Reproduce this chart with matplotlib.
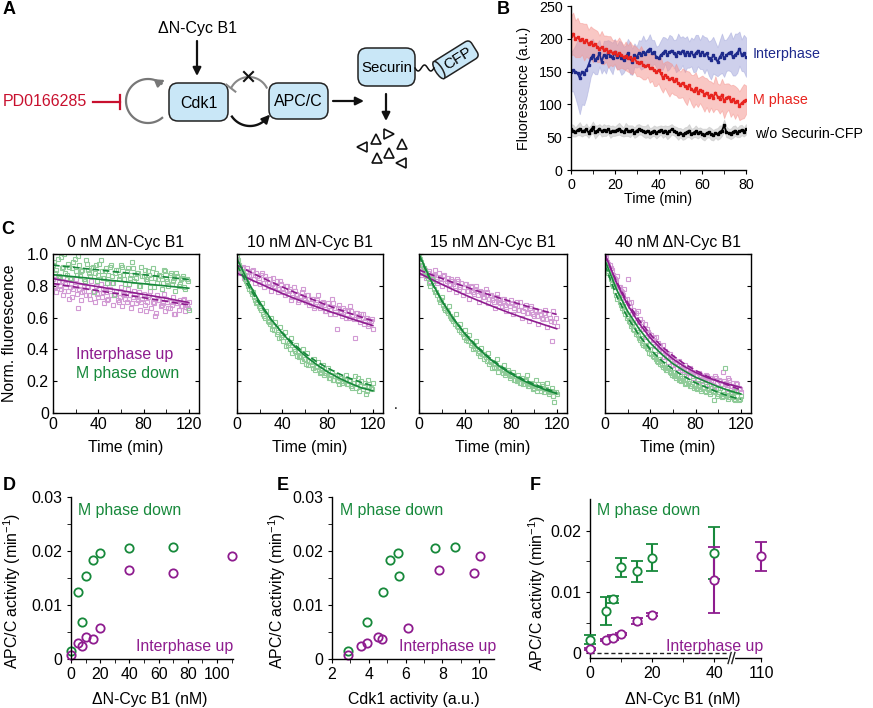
import numpy as np
import matplotlib.pyplot as plt
from matplotlib.patches import FancyBboxPatch, Ellipse
from matplotlib.transforms import Affine2D

plt.rcParams['font.family'] = ['Liberation Sans', 'DejaVu Sans']
plt.rcParams['mathtext.default'] = 'regular'
plt.rcParams['axes.linewidth'] = 1.0

PURPLE = '#8E1C8F'
GREEN = '#17893B'
LPURPLE = '#D29AD4'
LGREEN = '#8FCB98'
RED = '#E8231E'
BLUE = '#1E2A8C'

# ================= data =================
# --- B: Securin-CFP fluorescence, 1 min frames ---
b_time = np.arange(81)
b_inter = [150, 152, 150, 148, 140, 150, 147, 152, 160, 170,
           175, 168, 170, 178, 165, 175, 172, 178, 174, 170,
           180, 172, 175, 170, 168, 172, 178, 170, 165, 175,
           172, 178, 175, 180, 177, 182, 185, 178, 180, 172,
           170, 175, 178, 182, 175, 180, 182, 178, 174, 180,
           178, 182, 175, 180, 176, 180, 174, 178, 182, 176,
           180, 175, 178, 170, 168, 175, 170, 165, 172, 178,
           170, 175, 178, 180, 172, 176, 178, 185, 175, 178,
           172]
b_inter_sd = [30, 32, 40, 50, 55, 50, 48, 42, 35,
              28, 25, 22, 24, 20, 18, 22, 25, 20, 22, 24, 20,
              18, 22, 25, 20, 18, 22, 24, 20, 18, 16, 20, 22, 25, 20, 18, 22, 20, 18, 16, 20,
              22, 25, 20, 24, 26, 22, 20, 25, 28, 24, 22, 26, 24, 20, 22, 25, 28, 24, 22, 26,
              28, 24, 26, 30, 28, 25, 22, 26, 30, 28, 24, 26, 30, 28, 32, 30, 26, 24, 28, 30]
b_mphase = [205, 208, 200, 202, 198, 200, 195, 198, 192, 195,
            190, 192, 188, 185, 187, 183, 185, 180, 182, 178,
            180, 175, 178, 176, 172, 174, 170, 172, 168, 170,
            165, 163, 165, 160, 158, 160, 155, 156, 152, 150,
            152, 148, 140, 145, 142, 138, 140, 135, 138, 132,
            130, 133, 128, 125, 130, 123, 120, 125, 118, 122,
            120, 115, 118, 112, 115, 110, 118, 112, 108, 115,
            105, 110, 112, 105, 108, 103, 105, 98, 102, 105,
            107]
b_mphase_sd = [30, 32, 28, 30, 26, 24, 28, 25, 22, 24, 26,
               22, 24, 20, 25, 22, 20, 24, 22, 20, 18, 22, 24, 20, 18, 22, 20, 24, 22, 20, 22,
               20, 24, 22, 20, 18, 22, 20, 24, 22, 20, 24, 22, 20, 24, 26, 22, 20, 24, 22, 20,
               22, 24, 26, 20, 22, 25, 24, 22, 20, 24, 26, 22, 24, 20, 22, 25, 20, 22, 24, 26,
               22, 20, 24, 22, 25, 20, 22, 24, 26, 22]
b_noprobe = [62, 60, 58, 61, 63, 59, 60, 62, 57, 61,
             65, 58, 60, 63, 59, 61, 60, 62, 58, 60,
             59, 61, 63, 60, 58, 62, 60, 59, 61, 57,
             60, 62, 61, 59, 58, 60, 56, 58, 60, 57,
             59, 61, 58, 60, 57, 59, 62, 60, 58, 55,
             57, 54, 56, 58, 60, 55, 57, 59, 56, 58,
             55, 54, 56, 58, 55, 53, 56, 55, 58, 60,
             68, 58, 56, 55, 58, 60, 57, 59, 61, 58,
             62]
b_noprobe_sd = [8, 9, 7, 8, 10, 8, 7, 9, 8, 7, 9, 10, 8, 7, 8, 9, 8, 7, 9, 8,
                7, 8, 9, 8, 7, 10, 8, 9, 7, 8, 9, 8, 7, 8, 9, 10, 8, 7, 8, 9,
                8, 7, 9, 8, 10, 9, 8, 7, 8, 9, 7, 8, 9, 8, 10, 8, 7, 9, 8, 7,
                8, 9, 7, 8, 9, 8, 7, 9, 10, 8, 9, 8, 7, 8, 9, 8, 7, 9, 8, 7, 8]

# --- C: normalised fluorescence (two replicates, 2 min frames) and fits every 10 min ---
c_titles = ['0 nM \u0394N-Cyc B1', '10 nM \u0394N-Cyc B1',
            '15 nM \u0394N-Cyc B1', '40 nM \u0394N-Cyc B1']
c_time = np.arange(0, 121, 2)
c_time2 = np.arange(1, 120, 2)
c_fit_time = np.arange(0, 121, 10)

c_inter_pts = [
    [0.84, 0.79, 0.86, 0.80, 0.83, 0.77, 0.85, 0.72, 0.81, 0.78,
     0.84, 0.66, 0.80, 0.76, 0.82, 0.79, 0.74, 0.83, 0.77, 0.80,
     0.73, 0.81, 0.76, 0.79, 0.71, 0.78, 0.82, 0.74, 0.77, 0.70,
     0.79, 0.75, 0.72, 0.78, 0.74, 0.69, 0.77, 0.73, 0.76, 0.70,
     0.75, 0.64, 0.73, 0.77, 0.70, 0.61, 0.74, 0.71, 0.68, 0.75,
     0.72, 0.66, 0.70, 0.73, 0.62, 0.69, 0.71, 0.67, 0.72, 0.68,
     0.70],
    [0.97, 0.88, 0.91, 0.85, 0.89, 0.84, 0.87, 0.90, 0.82, 0.86,
     0.81, 0.88, 0.79, 0.84, 0.82, 0.77, 0.85, 0.80, 0.76, 0.83,
     0.78, 0.74, 0.80, 0.77, 0.71, 0.79, 0.75, 0.70, 0.73, 0.78,
     0.71, 0.74, 0.68, 0.72, 0.66, 0.70, 0.74, 0.67, 0.70, 0.64,
     0.69, 0.62, 0.72, 0.66, 0.53, 0.68, 0.63, 0.66, 0.60, 0.64,
     0.67, 0.61, 0.47, 0.63, 0.59, 0.62, 0.56, 0.60, 0.55, 0.58,
     0.53],
    [0.92, 0.87, 0.89, 0.85, 0.88, 0.83, 0.86, 0.90, 0.82, 0.85,
     0.80, 0.87, 0.83, 0.78, 0.84, 0.81, 0.76, 0.83, 0.79, 0.74,
     0.81, 0.77, 0.72, 0.79, 0.75, 0.80, 0.70, 0.76, 0.73, 0.78,
     0.69, 0.74, 0.71, 0.66, 0.75, 0.70, 0.67, 0.72, 0.64, 0.69,
     0.71, 0.62, 0.68, 0.65, 0.70, 0.60, 0.66, 0.63, 0.58, 0.67,
     0.61, 0.64, 0.56, 0.62, 0.59, 0.65, 0.54, 0.60, 0.45, 0.57,
     0.55],
    [1.00, 0.95, 0.93, 0.90, 0.85, 0.83, 0.79, 0.77, 0.74, 0.71,
     0.84, 0.67, 0.62, 0.63, 0.57, 0.57, 0.53, 0.53, 0.48, 0.51,
     0.46, 0.46, 0.42, 0.42, 0.39, 0.39, 0.35, 0.36, 0.32, 0.35,
     0.30, 0.31, 0.28, 0.28, 0.27, 0.26, 0.24, 0.25, 0.26, 0.22,
     0.24, 0.21, 0.24, 0.20, 0.21, 0.23, 0.18, 0.21, 0.17, 0.22,
     0.16, 0.20, 0.26, 0.18, 0.15, 0.21, 0.17, 0.14, 0.19, 0.16,
     0.13],
]
c_inter_pts2 = [
    [0.80, 0.76, 0.83, 0.78, 0.74, 0.81, 0.77, 0.79, 0.73, 0.80,
     0.75, 0.78, 0.71, 0.77, 0.74, 0.79, 0.72, 0.76, 0.70, 0.75,
     0.78, 0.73, 0.69, 0.76, 0.72, 0.74, 0.68, 0.75, 0.71, 0.73,
     0.67, 0.74, 0.70, 0.72, 0.66, 0.73, 0.69, 0.71, 0.65, 0.72,
     0.68, 0.70, 0.74, 0.66, 0.69, 0.63, 0.71, 0.67, 0.69, 0.64,
     0.70, 0.66, 0.68, 0.62, 0.69, 0.65, 0.67, 0.71, 0.64, 0.66],
    [0.94, 0.90, 0.92, 0.87, 0.91, 0.86, 0.89, 0.84, 0.88, 0.85,
     0.87, 0.82, 0.86, 0.80, 0.84, 0.81, 0.79, 0.83, 0.78, 0.81,
     0.76, 0.80, 0.75, 0.78, 0.73, 0.77, 0.74, 0.71, 0.76, 0.72,
     0.70, 0.74, 0.69, 0.72, 0.67, 0.71, 0.66, 0.69, 0.68, 0.64,
     0.67, 0.65, 0.69, 0.62, 0.66, 0.64, 0.61, 0.65, 0.62, 0.60,
     0.64, 0.59, 0.63, 0.61, 0.57, 0.62, 0.58, 0.60, 0.56, 0.59],
    [0.91, 0.88, 0.90, 0.86, 0.89, 0.85, 0.87, 0.83, 0.88, 0.84,
     0.86, 0.82, 0.85, 0.81, 0.83, 0.80, 0.84, 0.78, 0.82, 0.79,
     0.81, 0.77, 0.80, 0.76, 0.78, 0.74, 0.77, 0.75, 0.73, 0.76,
     0.72, 0.74, 0.70, 0.73, 0.71, 0.69, 0.72, 0.68, 0.70, 0.67,
     0.69, 0.66, 0.70, 0.65, 0.67, 0.64, 0.68, 0.63, 0.66, 0.62,
     0.65, 0.61, 0.64, 0.60, 0.63, 0.59, 0.62, 0.58, 0.64, 0.60],
    [0.98, 0.94, 0.91, 0.87, 0.84, 0.86, 0.79, 0.76, 0.78, 0.72,
     0.69, 0.70, 0.65, 0.63, 0.64, 0.59, 0.57, 0.56, 0.53, 0.50,
     0.49, 0.47, 0.48, 0.44, 0.42, 0.43, 0.39, 0.38, 0.37, 0.35,
     0.34, 0.32, 0.33, 0.30, 0.29, 0.30, 0.27, 0.28, 0.25, 0.26,
     0.24, 0.25, 0.23, 0.22, 0.24, 0.21, 0.22, 0.20, 0.23, 0.19,
     0.21, 0.18, 0.20, 0.19, 0.22, 0.17, 0.19, 0.16, 0.18, 0.15],
]
c_mdown_pts = [
    [0.93, 0.88, 0.97, 0.85, 0.91, 1.00, 0.87, 0.92, 0.84, 0.95,
     0.89, 0.99, 0.86, 0.90, 0.83, 0.94, 0.88, 0.91, 0.76, 0.93,
     0.87, 0.96, 0.85, 0.89, 0.82, 0.92, 0.86, 0.74, 0.90, 0.84,
     0.93, 0.87, 0.81, 0.91, 0.85, 0.95, 0.83, 0.88, 0.80, 0.92,
     0.86, 0.84, 0.89, 0.79, 0.91, 0.85, 0.82, 0.87, 0.78, 0.90,
     0.84, 0.80, 0.88, 0.83, 0.77, 0.86, 0.81, 0.85, 0.79, 0.84,
     0.65],
    [0.98, 0.93, 0.89, 0.87, 0.83, 0.80, 0.77, 0.76, 0.71, 0.70,
     0.66, 0.69, 0.61, 0.64, 0.57, 0.60, 0.55, 0.57, 0.51, 0.54,
     0.49, 0.51, 0.45, 0.44, 0.47, 0.40, 0.43, 0.39, 0.36, 0.40,
     0.34, 0.38, 0.33, 0.30, 0.34, 0.29, 0.32, 0.26, 0.30, 0.25,
     0.28, 0.22, 0.26, 0.21, 0.24, 0.18, 0.22, 0.20, 0.24, 0.18,
     0.21, 0.16, 0.23, 0.19, 0.14, 0.20, 0.17, 0.12, 0.21, 0.16,
     0.19],
    [1.00, 0.95, 0.91, 0.88, 0.85, 0.80, 0.83, 0.76, 0.74, 0.70,
     0.73, 0.66, 0.64, 0.67, 0.60, 0.58, 0.62, 0.54, 0.56, 0.50,
     0.52, 0.47, 0.49, 0.44, 0.42, 0.45, 0.39, 0.41, 0.37, 0.35,
     0.38, 0.33, 0.28, 0.31, 0.34, 0.29, 0.27, 0.30, 0.25, 0.27,
     0.23, 0.26, 0.21, 0.24, 0.19, 0.22, 0.20, 0.24, 0.17, 0.19,
     0.16, 0.21, 0.18, 0.14, 0.17, 0.15, 0.19, 0.13, 0.16, 0.07,
     0.12],
    [0.95, 0.89, 0.87, 0.81, 0.80, 0.74, 0.73, 0.68, 0.67, 0.62,
     0.61, 0.57, 0.56, 0.52, 0.51, 0.47, 0.47, 0.43, 0.43, 0.40,
     0.40, 0.36, 0.37, 0.33, 0.34, 0.30, 0.31, 0.27, 0.28, 0.25,
     0.26, 0.23, 0.24, 0.21, 0.22, 0.23, 0.19, 0.20, 0.17, 0.21,
     0.16, 0.19, 0.15, 0.18, 0.14, 0.17, 0.13, 0.16, 0.08, 0.15,
     0.12, 0.16, 0.11, 0.28, 0.14, 0.10, 0.13, 0.09, 0.14, 0.08,
     0.11],
]
c_mdown_pts2 = [
    [0.95, 0.90, 0.86, 0.98, 0.92, 0.88, 0.94, 0.85, 0.91, 0.97,
     0.87, 0.93, 0.89, 0.84, 0.96, 0.90, 0.86, 0.92, 0.88, 0.83,
     0.94, 0.89, 0.85, 0.91, 0.87, 0.93, 0.82, 0.88, 0.90, 0.86,
     0.92, 0.84, 0.89, 0.81, 0.87, 0.91, 0.85, 0.88, 0.80, 0.86,
     0.90, 0.83, 0.87, 0.85, 0.79, 0.88, 0.84, 0.86, 0.82, 0.89,
     0.83, 0.87, 0.81, 0.85, 0.88, 0.80, 0.84, 0.86, 0.78, 0.83],
    [0.96, 0.91, 0.88, 0.84, 0.82, 0.78, 0.75, 0.73, 0.69, 0.67,
     0.65, 0.62, 0.60, 0.58, 0.56, 0.53, 0.52, 0.50, 0.47, 0.48,
     0.45, 0.42, 0.43, 0.40, 0.38, 0.39, 0.36, 0.35, 0.33, 0.34,
     0.31, 0.30, 0.32, 0.28, 0.27, 0.29, 0.25, 0.27, 0.24, 0.25,
     0.22, 0.24, 0.21, 0.23, 0.20, 0.22, 0.19, 0.21, 0.18, 0.20,
     0.17, 0.19, 0.16, 0.22, 0.17, 0.15, 0.19, 0.14, 0.17, 0.15],
    [0.97, 0.93, 0.89, 0.86, 0.82, 0.84, 0.78, 0.76, 0.72, 0.71,
     0.68, 0.65, 0.63, 0.61, 0.59, 0.56, 0.55, 0.52, 0.51, 0.48,
     0.46, 0.45, 0.43, 0.40, 0.41, 0.38, 0.36, 0.37, 0.34, 0.33,
     0.31, 0.32, 0.29, 0.28, 0.26, 0.28, 0.25, 0.24, 0.26, 0.22,
     0.24, 0.21, 0.20, 0.22, 0.19, 0.18, 0.21, 0.17, 0.18, 0.15,
     0.17, 0.14, 0.16, 0.18, 0.13, 0.15, 0.12, 0.14, 0.11, 0.13],
    [0.92, 0.88, 0.84, 0.80, 0.77, 0.72, 0.70, 0.66, 0.64, 0.60,
     0.58, 0.55, 0.53, 0.50, 0.49, 0.46, 0.44, 0.42, 0.41, 0.38,
     0.37, 0.35, 0.34, 0.32, 0.31, 0.29, 0.28, 0.27, 0.26, 0.24,
     0.23, 0.22, 0.21, 0.20, 0.21, 0.18, 0.19, 0.17, 0.18, 0.16,
     0.15, 0.17, 0.14, 0.16, 0.13, 0.15, 0.12, 0.14, 0.13, 0.11,
     0.13, 0.10, 0.12, 0.11, 0.09, 0.12, 0.10, 0.08, 0.11, 0.09],
]
c_inter_fit_solid = [
    [0.845, 0.832, 0.819, 0.806, 0.794, 0.782, 0.770, 0.758, 0.746, 0.734, 0.722, 0.708, 0.695],
    [0.880, 0.846, 0.814, 0.783, 0.752, 0.723, 0.696, 0.669, 0.643, 0.619, 0.595, 0.572, 0.550],
    [0.880, 0.844, 0.809, 0.775, 0.743, 0.712, 0.683, 0.654, 0.627, 0.601, 0.577, 0.553, 0.530],
    [1.000, 0.822, 0.680, 0.565, 0.473, 0.400, 0.340, 0.293, 0.255, 0.224, 0.200, 0.180, 0.160],
]
c_inter_fit_dash = [
    [0.815, 0.803, 0.792, 0.780, 0.769, 0.758, 0.747, 0.736, 0.725, 0.714, 0.703, 0.691, 0.680],
    [0.930, 0.893, 0.858, 0.825, 0.793, 0.762, 0.733, 0.705, 0.677, 0.651, 0.626, 0.603, 0.580],
    [0.900, 0.872, 0.846, 0.820, 0.795, 0.770, 0.747, 0.724, 0.702, 0.680, 0.659, 0.639, 0.620],
    [0.990, 0.830, 0.695, 0.585, 0.495, 0.420, 0.360, 0.310, 0.268, 0.232, 0.200, 0.172, 0.145],
]
c_mdown_fit_solid = [
    [0.870, 0.863, 0.856, 0.849, 0.842, 0.835, 0.828, 0.820, 0.813, 0.806, 0.799, 0.792, 0.785],
    [0.970, 0.822, 0.698, 0.591, 0.502, 0.425, 0.361, 0.306, 0.259, 0.220, 0.187, 0.158, 0.140],
    [1.000, 0.839, 0.705, 0.592, 0.497, 0.417, 0.350, 0.294, 0.247, 0.207, 0.174, 0.146, 0.122],
    [0.960, 0.780, 0.640, 0.530, 0.440, 0.370, 0.310, 0.265, 0.225, 0.195, 0.165, 0.140, 0.120],
]
c_mdown_fit_dash = [
    [0.930, 0.922, 0.915, 0.907, 0.900, 0.892, 0.885, 0.877, 0.870, 0.862, 0.855, 0.847, 0.840],
    [0.930, 0.800, 0.685, 0.588, 0.505, 0.435, 0.375, 0.325, 0.283, 0.247, 0.217, 0.192, 0.170],
    [0.990, 0.835, 0.704, 0.594, 0.501, 0.423, 0.357, 0.301, 0.254, 0.215, 0.182, 0.154, 0.130],
    [0.930, 0.740, 0.600, 0.490, 0.400, 0.330, 0.275, 0.230, 0.190, 0.160, 0.130, 0.105, 0.085],
]

# --- D / E: APC/C activity (min^-1) ---
d_conc_m = [0, 5, 7.5, 10, 15, 20, 40, 70]
d_mdown = [0.0015, 0.0125, 0.0068, 0.0153, 0.0183, 0.0197, 0.0206, 0.0207]
d_conc_i = [0, 5, 7.5, 10, 15, 20, 40, 70, 110]
d_inter = [0.0008, 0.0030, 0.0025, 0.0040, 0.0037, 0.0057, 0.0164, 0.0159, 0.0191]
e_cdk1_m = [2.87, 4.77, 3.90, 5.64, 5.17, 5.60, 7.60, 8.70]
e_cdk1_i = [2.87, 3.89, 3.56, 4.50, 4.74, 6.11, 7.80, 9.72, 10.02]

# --- F: mean +/- error ---
f_conc_m = [0, 5, 7.5, 10, 15, 20, 40]
f_mdown = [0.0022, 0.0069, 0.0088, 0.0140, 0.0134, 0.0156, 0.0164]
f_mdown_err = [0.0007, 0.0023, 0.0006, 0.0015, 0.0017, 0.0022, 0.0043]
f_conc_i = [0, 5, 7.5, 10, 15, 20, 40, 110]
f_inter = [0.0007, 0.0021, 0.0025, 0.0031, 0.0052, 0.0063, 0.0119, 0.0158]
f_inter_err = [0.0002, 0.0002, 0.0004, 0.0002, 0.0005, 0.0002, 0.0054, 0.0024]
F_POS_110 = 55      # 110 nM drawn after the axis break
F_BREAK = 45.5

# ================= figure =================
W, H = 873, 708
fig = plt.figure(figsize=(W / 100, H / 100), dpi=100)


def px_axes(l, t, r, b):
    return fig.add_axes([l / W, 1 - b / H, (r - l) / W, (b - t) / H])


def ftext(x, y, s, **kw):
    fig.text(x / W, 1 - y / H, s, **kw)


for lab, x, y in [('A', 9, 10), ('B', 503, 9), ('C', 8, 230),
                  ('D', 9, 486), ('E', 283, 486), ('F', 535, 486)]:
    ftext(x, y, lab, fontsize=13, fontweight='bold', ha='center', va='center')

# ---------------- A: scheme ----------------
axA = px_axes(0, 0, 480, 180)
axA.set_xlim(0, 480)
axA.set_ylim(180, 0)
axA.axis('off')
BOX_FC = '#C9E7F7'


def node(x0, y0, x1, y1, label, fs=11.5):
    axA.add_patch(FancyBboxPatch((x0, y0), x1 - x0, y1 - y0,
                                 boxstyle='round,pad=0,rounding_size=9',
                                 fc=BOX_FC, ec='#222222', lw=1.1))
    axA.text((x0 + x1) / 2, (y0 + y1) / 2 + 1, label, ha='center', va='center', fontsize=fs)


def arrow(p0, p1, color='#111111', lw=1.6):
    axA.annotate('', xy=p1, xytext=p0,
                 arrowprops=dict(arrowstyle='-|>', color=color, lw=lw,
                                 mutation_scale=12, shrinkA=0, shrinkB=0))


node(169, 83, 228, 121, 'Cdk1')
node(269, 83, 328, 119, 'APC/C')
node(358, 48, 415, 86, 'Securin', fs=10.8)
axA.text(197, 28, '\u0394N-Cyc B1', ha='center', va='center', fontsize=11.5)
arrow((197, 41), (197, 76))
axA.text(3, 102, 'PD0166285', ha='left', va='center', fontsize=11.5, color='#C8102E')
axA.plot([93, 120], [102, 102], color='#C8102E', lw=1.6)
axA.plot([120, 120], [95, 109], color='#C8102E', lw=1.6)

# gray self-activation loop
th = np.radians(np.linspace(-50, -308, 80))
axA.plot(148 + 22 * np.cos(th), 101 - 22 * np.sin(th), color='#777777', lw=1.6)
arrow((148 + 22 * np.cos(th[-3]), 101 - 22 * np.sin(th[-3])), (165, 80), color='#777777', lw=1.6)

# gray inhibition arc (crossed out)
th = np.radians(np.linspace(28, 152, 60))
ax_, ay_ = 249 + 20 * np.cos(th), 97 - 20 * np.sin(th)
axA.plot(ax_, ay_, color='#888888', lw=1.5)
axA.plot([ax_[-1] - 5, ax_[-1] + 4], [ay_[-1] - 3, ay_[-1] + 4], color='#888888', lw=1.5)
axA.plot([244, 253], [72, 81], color='#111111', lw=1.5)
axA.plot([244, 253], [81, 72], color='#111111', lw=1.5)

# black activation arc
th = np.radians(np.linspace(-145, -35, 60))
bx_, by_ = 250 + 22 * np.cos(th), 104 - 22 * np.sin(th)
axA.plot(bx_[:-4], by_[:-4], color='#111111', lw=1.7)
arrow((bx_[-6], by_[-6]), (bx_[-1] + 2, by_[-1] - 2))

arrow((333, 101), (364, 101))
arrow((386, 94), (386, 121))

# CFP barrel and linker
sq_x = np.linspace(415, 434, 40)
axA.plot(sq_x, 68 + 3 * np.sin((sq_x - 415) / 19 * 3 * np.pi), color='#111111', lw=1.1)
rot = Affine2D().rotate_deg_around(455, 60, -32) + axA.transData
axA.add_patch(FancyBboxPatch((434, 50), 44, 20, boxstyle='round,pad=0,rounding_size=5',
                             fc=BOX_FC, ec='#222222', lw=1.1, transform=rot))
axA.add_patch(Ellipse((436, 60), 7, 20, fc=BOX_FC, ec='#222222', lw=1.1, transform=rot))
axA.text(458, 59, 'CFP', rotation=32, ha='center', va='center', fontsize=11)

# degradation products
for (tx, ty, mk) in [(362, 147, '<'), (376, 139, '^'), (389, 134, '>'), (402, 144, '^'),
                     (389, 153, '^'), (377, 158, '^'), (401, 163, '<')]:
    axA.plot(tx, ty, marker=mk, ms=7.5, mfc='white', mec='#111111', mew=1.2)

# ---------------- B ----------------
axB = px_axes(571, 6, 746, 170)
for m, sd, col, fcol in [(b_inter, b_inter_sd, BLUE, '#9FA3DA'),
                         (b_mphase, b_mphase_sd, RED, '#F5908A'),
                         (b_noprobe, b_noprobe_sd, 'black', '#BBBBBB')]:
    m = np.array(m, float)
    sd = np.array(sd, float)
    axB.fill_between(b_time, m - sd, m + sd, color=fcol, alpha=0.5, lw=0.6)
for m, col in [(b_inter, BLUE), (b_mphase, RED), (b_noprobe, 'black')]:
    axB.plot(b_time, m, color=col, lw=1.3, marker='s', ms=2, mec=col)
axB.set_xlim(0, 80)
axB.set_ylim(0, 250)
axB.spines[['top', 'right']].set_visible(False)
axB.set_xticks([0, 20, 40, 60, 80])
axB.set_xticks([10, 30, 50, 70], minor=True)
axB.set_yticks([0, 50, 100, 150, 200, 250])
axB.tick_params(which='both', direction='out', length=3, labelsize=10.3, pad=3)
axB.set_xlabel('Time (min)', fontsize=10.3)
axB.set_ylabel('Fluorescence (a.u.)', fontsize=10.3)
axB.xaxis.set_label_coords(0.497, -0.135)
axB.yaxis.set_label_coords(-0.228, 0.5)
ftext(753, 54, 'Interphase', color=BLUE, fontsize=10.3, va='center')
ftext(753, 100, 'M phase', color=RED, fontsize=10.3, va='center')
ftext(755, 134, 'w/o Securin-CFP', color='black', fontsize=10.3, va='center')

# ---------------- C ----------------
c_boxes = [(53, 254, 199, 413), (237, 254, 383, 413), (419, 254, 567, 413), (605, 254, 751, 413)]
for i, box in enumerate(c_boxes):
    ax = px_axes(*box)
    for tt, pts, col in [(c_time, c_inter_pts[i], LPURPLE), (c_time2, c_inter_pts2[i], LPURPLE),
                         (c_time, c_mdown_pts[i], LGREEN), (c_time2, c_mdown_pts2[i], LGREEN)]:
        ax.plot(tt, pts, 's', ms=3.2, mfc='none', mec=col, mew=0.8)
    ax.plot(c_fit_time, c_inter_fit_solid[i], color=PURPLE, lw=1.2)
    ax.plot(c_fit_time, c_inter_fit_dash[i], color=PURPLE, lw=1.2, dashes=(4, 2))
    ax.plot(c_fit_time, c_mdown_fit_solid[i], color=GREEN, lw=1.2)
    ax.plot(c_fit_time, c_mdown_fit_dash[i], color=GREEN, lw=1.2, dashes=(4, 2))
    ax.set_xlim(0, 129)
    ax.set_ylim(0, 1.0)
    ax.set_xticks([0, 40, 80, 120])
    ax.set_xticks([20, 60, 100], minor=True)
    ax.set_yticks([0, 0.2, 0.4, 0.6, 0.8, 1.0])
    ax.tick_params(which='both', direction='in', length=3, right=True, labelsize=11.4, pad=3)
    if i == 0:
        ax.set_yticklabels(['0', '0.2', '0.4', '0.6', '0.8', '1.0'])
        ax.set_ylabel('Norm. fluorescence', fontsize=11.4)
        ax.yaxis.set_label_coords(-0.247, 0.5)
        ax.text(0.16, 0.365, 'Interphase up', color=PURPLE, fontsize=11.4,
                transform=ax.transAxes, va='center')
        ax.text(0.16, 0.25, 'M phase down', color=GREEN, fontsize=11.4,
                transform=ax.transAxes, va='center')
    else:
        ax.set_yticklabels([])
    ax.set_title(c_titles[i], fontsize=11.4, pad=5)
    ax.set_xlabel('Time (min)', fontsize=11.4)
    ax.xaxis.set_label_coords(0.5, -0.17)
ftext(396, 412, '.', fontsize=10, ha='center', va='bottom')


# ---------------- D, E ----------------
def style_rate(ax):
    ax.spines[['top', 'right']].set_visible(False)
    ax.set_ylim(0, 0.03)
    ax.set_yticks([0, 0.01, 0.02, 0.03])
    ax.set_yticks([0.005, 0.015, 0.025], minor=True)
    ax.set_yticklabels(['0', '0.01', '0.02', '0.03'])
    ax.tick_params(which='both', direction='out', length=3, labelsize=11.4, pad=3)
    ax.set_ylabel('APC/C activity (min$^{-1}$)', fontsize=11.4)


axD = px_axes(71, 497, 233, 659)
axD.plot(d_conc_m, d_mdown, 'o', ms=6, mfc='none', mec=GREEN, mew=1.3, clip_on=False)
axD.plot(d_conc_i, d_inter, 'o', ms=6, mfc='none', mec=PURPLE, mew=1.3, clip_on=False)
style_rate(axD)
axD.set_xlim(0, 111)
axD.set_xticks([0, 20, 40, 60, 80, 100])
axD.set_xticks([10, 30, 50, 70, 90, 110], minor=True)
axD.set_xlabel('\u0394N-Cyc B1 (nM)', fontsize=11.4)
axD.xaxis.set_label_coords(0.488, -0.204)
axD.yaxis.set_label_coords(-0.296, 0.42)
ftext(78, 511, 'M phase down', color=GREEN, fontsize=11.4, va='center')
ftext(233, 647, 'Interphase up', color=PURPLE, fontsize=11.4, va='center', ha='right')

axE = px_axes(332, 497, 494, 659)
axE.plot(e_cdk1_m, d_mdown, 'o', ms=6, mfc='none', mec=GREEN, mew=1.3, clip_on=False)
axE.plot(e_cdk1_i, d_inter, 'o', ms=6, mfc='none', mec=PURPLE, mew=1.3, clip_on=False)
style_rate(axE)
axE.set_xlim(2, 10.8)
axE.set_xticks([2, 4, 6, 8, 10])
axE.set_xticks([3, 5, 7, 9], minor=True)
axE.set_xlabel('Cdk1 activity (a.u.)', fontsize=11.4)
axE.xaxis.set_label_coords(0.506, -0.204)
axE.yaxis.set_label_coords(-0.272, 0.42)
ftext(340, 511, 'M phase down', color=GREEN, fontsize=11.4, va='center')
ftext(496, 647, 'Interphase up', color=PURPLE, fontsize=11.4, va='center', ha='right')

# ---------------- F ----------------
axF = px_axes(590, 499, 761, 658)
fpos_m = [c if c <= 40 else F_POS_110 for c in f_conc_m]
fpos_i = [c if c <= 40 else F_POS_110 for c in f_conc_i]
axF.plot([0, F_BREAK - 0.8], [0, 0], color='#222222', lw=1.0, dashes=(3, 2))
for pos, val, err, col in [(fpos_m, f_mdown, f_mdown_err, GREEN),
                           (fpos_i, f_inter, f_inter_err, PURPLE)]:
    axF.errorbar(pos, val, yerr=err, fmt='o', ms=6, mfc='white', mec=col, mew=1.3,
                 ecolor=col, elinewidth=1.5, capsize=4, capthick=1.5, clip_on=False, zorder=3)
axF.spines[['top', 'right']].set_visible(False)
axF.set_xlim(0, F_POS_110)
axF.set_ylim(-0.0008, 0.0252)
axF.set_xticks([0, 20, 40, F_POS_110])
axF.set_xticklabels(['0', '20', '40', '110'])
axF.set_xticks([10, 30], minor=True)
axF.set_yticks([0, 0.01, 0.02])
axF.set_yticks([0.005, 0.015], minor=True)
axF.set_yticklabels(['0', '0.01', '0.02'])
axF.tick_params(which='both', direction='out', length=3, labelsize=11.4, pad=3)
axF.set_ylabel('APC/C activity (min$^{-1}$)', fontsize=11.4)
axF.set_xlabel('\u0394N-Cyc B1 (nM)', fontsize=11.4)
axF.xaxis.set_label_coords(0.54, -0.214)
axF.yaxis.set_label_coords(-0.246, 0.41)
yb = -0.0008
axF.plot([F_BREAK - 0.6, F_BREAK + 0.6], [yb, yb], color='white', lw=3, clip_on=False, zorder=5)
for cx in (F_BREAK - 0.6, F_BREAK + 0.6):
    axF.plot([cx - 0.5, cx + 0.5], [yb - 0.0009, yb + 0.0009], color='#222222',
             lw=1.0, clip_on=False, zorder=6)
ftext(597, 511, 'M phase down', color=GREEN, fontsize=11.4, va='center')
ftext(666, 647, 'Interphase up', color=PURPLE, fontsize=11.4, va='center')

fig.savefig('out.png', dpi=100)
